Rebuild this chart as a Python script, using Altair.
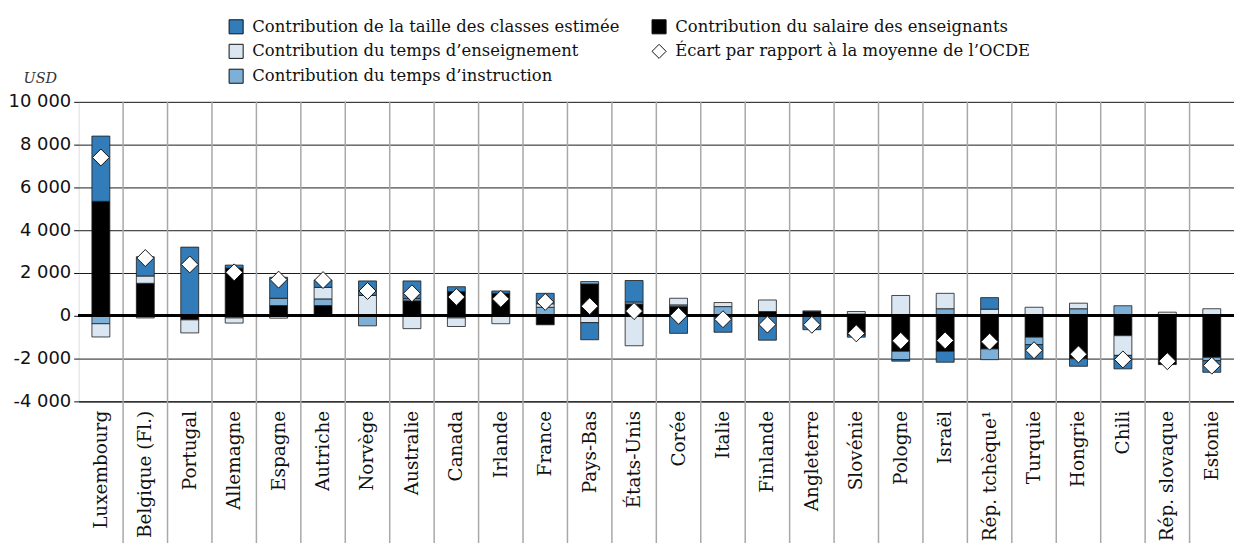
import altair as alt
import pandas as pd

countries = ["Luxembourg", "Belgique (Fl.)", "Portugal", "Allemagne", "Espagne", "Autriche",
             "Norvège", "Australie", "Canada", "Irlande", "France", "Pays-Bas", "États-Unis",
             "Corée", "Italie", "Finlande", "Angleterre", "Slovénie", "Pologne", "Israël",
             "Rép. tchèque¹", "Turquie", "Hongrie", "Chili", "Rép. slovaque", "Estonie"]

salary      = [5350, 1520, -190, 2230, 480, 480, -30, 700, 1130, 1050, -420, 1490, 550,
               430, -50, 200, 200, -900, -1660, -1660, -1550, -1000, -2010, -930, -2280, -1940]
instruction = [-370, -100, 0, -100, 340, 310, -440, 100, -100, -30, 400, 110, 100,
               80, 430, 0, 30, 80, -390, 330, -500, -350, 330, 470, 0, -160]
teaching    = [-620, 340, -610, -240, -110, 540, 950, -600, -400, -340, 160, -320, -1400,
               310, 190, 540, 0, 120, 950, 720, 310, 400, 260, -920, 170, 330]
class_size  = [3050, 900, 3210, 140, 980, 340, 680, 830, 230, 110, 490, -800, 1000,
               -820, -720, -1140, -650, -100, -70, -510, 540, -660, -350, -630, 0, -540]
ecart       = [7400, 2700, 2400, 2030, 1690, 1670, 1160, 1050, 880, 790, 650, 450, 220,
               0, -160, -410, -420, -820, -1170, -1150, -1210, -1610, -1800, -2040, -2120, -2330]

S_CLS = "Contribution de la taille des classes estimée"
S_SAL = "Contribution du salaire des enseignants"
S_TEA = "Contribution du temps d’enseignement"
S_ECA = "Écart par rapport à la moyenne de l’OCDE"
S_INS = "Contribution du temps d’instruction"

rows = []
for i, c in enumerate(countries):
    for name, vals, o in [(S_SAL, salary, 0), (S_INS, instruction, 1),
                          (S_TEA, teaching, 2), (S_CLS, class_size, 3)]:
        if vals[i] != 0:
            rows.append({"pays": c, "serie": name, "valeur": vals[i], "ordre": o})
bars_df = pd.DataFrame(rows)
pts_df = pd.DataFrame({"pays": countries, "serie": [S_ECA] * len(countries), "valeur": ecart})
sep_df = pd.DataFrame({"borne": list(range(1, len(countries)))})  # boundaries between columns

domain = [S_CLS, S_TEA, S_INS, S_SAL, S_ECA]
fill_range = ["#327DB9", "#DAE6F2", "#7DAFD7", "#000000", "#FFFFFF"]
shape_range = ["square", "square", "square", "square", "diamond"]

legend = alt.Legend(orient="none", legendX=150, legendY=-84, columns=2, title=None,
                    symbolSize=200, labelFont="DejaVu Serif", labelFontSize=16.5,
                    labelColor="#111", rowPadding=6, columnPadding=30,
                    symbolStrokeColor="#111", symbolStrokeWidth=1, labelLimit=0,
                    symbolOffset=0, labelOffset=8)

fill_enc = alt.Fill("serie:N", scale=alt.Scale(domain=domain, range=fill_range), legend=legend)
shape_enc = alt.Shape("serie:N", scale=alt.Scale(domain=domain, range=shape_range), legend=legend)

x_scale = alt.Scale(paddingInner=0, paddingOuter=0)
x_axis = alt.Axis(labelAngle=-90, labelFont="DejaVu Serif", labelFontSize=18.5,
                  labelColor="#111", ticks=False, labelPadding=9, grid=False,
                  domainColor="#111", domainWidth=1, labelLimit=0, title=None)
x_enc = alt.X("pays:N", sort=countries, title=None, scale=x_scale, axis=x_axis)

y_scale = alt.Scale(domain=[-4000, 10000], nice=False)
y_axis = alt.Axis(values=list(range(-4000, 10001, 2000)),
                  labelExpr="replace(replace(format(datum.value, ','), ',', ' '), '−', '-')",
                  labelFont="DejaVu Sans", labelFontSize=18, labelColor="#111",
                  labelPadding=3, tickSize=5, tickColor="#111", domain=False,
                  grid=True, gridColor="#1a1a1a", gridWidth=1,
                  title="USD", titleAngle=0, titleFont="DejaVu Serif", titleFontStyle="italic",
                  titleFontWeight="normal", titleFontSize=14.5, titleColor="#333",
                  titleX=-39, titleY=-23, titleAlign="center", titleBaseline="middle")

# vertical separators between columns, extending through the label area
seps = alt.Chart(sep_df).mark_rule(color="#a8a8a8", strokeWidth=1.5).encode(
    x=alt.X("borne:Q", scale=alt.Scale(domain=[0, len(countries)], nice=False, zero=False),
            axis=None),
    y=alt.value(0),
    y2=alt.value(452),
)

bars = alt.Chart(bars_df).mark_bar(size=18, stroke="#1a1a1a", strokeWidth=0.8).encode(
    x=x_enc,
    y=alt.Y("valeur:Q", stack="zero", scale=y_scale, axis=y_axis),
    fill=fill_enc,
    order=alt.Order("ordre:Q", sort="ascending"),
)

zero = alt.Chart(pts_df).mark_rule(color="#000", strokeWidth=2).encode(
    y=alt.datum(0, scale=y_scale, axis=y_axis)
)

pts = alt.Chart(pts_df).mark_point(filled=True, size=290, stroke="#111", strokeWidth=1,
                                   opacity=1).encode(
    x=alt.X("pays:N", sort=countries, scale=x_scale, axis=x_axis),
    y=alt.Y("valeur:Q", scale=y_scale, axis=y_axis),
    fill=fill_enc,
    shape=shape_enc,
)

main = alt.layer(bars, zero, pts)

chart = alt.layer(seps, main).resolve_scale(x="independent").properties(
    width=1161, height=301,
    autosize=alt.AutoSizeParams(type="none"),
    padding={"left": 71, "top": 93, "right": 0, "bottom": 141},
).configure_view(stroke=None).configure_axisY(domain=False).configure(background="white")

chart.save("out.html", embed_options={"renderer": "svg", "actions": False})
